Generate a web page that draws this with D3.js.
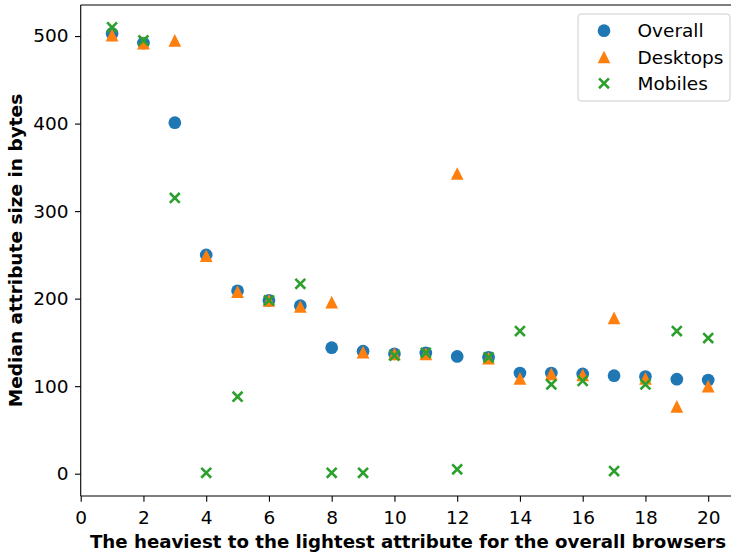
<!DOCTYPE html>
<html>
<head>
<meta charset="utf-8">
<script src="https://cdn.jsdelivr.net/npm/d3@7"></script>
<style>
  html, body { margin: 0; padding: 0; background: #fff; }
  svg { display: block; font-family: "DejaVu Sans", sans-serif; }
</style>
</head>
<body>
<svg id="chart" width="731" height="556"></svg>
<script>
const ranks = [1,2,3,4,5,6,7,8,9,10,11,12,13,14,15,16,17,18,19,20];
const overall  = [503,492,401,250,209,198,192,144,140,137,138,134,133,115,115,114,112,111,108,107];
const desktops = [501,492,495,249,208,198,191,196,139,137,137,343,132,109,114,113,178,109,77,100];
const mobiles  = [510,495,315,1,88,198,217,1,1,135,138,5,133,163,102,106,3,102,163,155];
const xTicks = [0,2,4,6,8,10,12,14,16,18,20];
const yTicks = [0,100,200,300,400,500];
const seriesNames = ["Overall","Desktops","Mobiles"];
const colors = ["#1f77b4","#ff7f0e","#2ca02c"];
const xLabel = "The heaviest to the lightest attribute for the overall browsers";
const yLabel = "Median attribute size in bytes";

const svg = d3.select("#chart");
const L = 80.7, R = 738, T = 5, B = 496;
const FS = 18.5;
const x = d3.scaleLinear().domain([0, 20.95]).range([L, R]);
const y = d3.scaleLinear().domain([-25.5, 535.5]).range([B, T]);

const ms = 12.7;
function triPath(s) { const h = s/2; return `M0,${-h}L${h},${h}L${-h},${h}Z`; }
function xPath(s) { const h = s/2; return `M${-h},${-h}L${h},${h}M${-h},${h}L${h},${-h}`; }

function drawMarker(g, kind, cx, cy) {
  if (kind === 0) {
    g.append("circle").attr("cx", cx).attr("cy", cy).attr("r", ms/2).attr("fill", colors[0]);
  } else if (kind === 1) {
    g.append("path").attr("d", triPath(ms)).attr("transform", `translate(${cx},${cy})`).attr("fill", colors[1]);
  } else {
    g.append("path").attr("d", xPath(ms*0.78)).attr("transform", `translate(${cx},${cy})`)
      .attr("fill", "none").attr("stroke", colors[2]).attr("stroke-width", 2.6);
  }
}

const data = [overall, desktops, mobiles];
const plot = svg.append("g");
data.forEach((vals, k) => {
  const g = plot.append("g");
  vals.forEach((v, i) => drawMarker(g, k, x(ranks[i]), y(v)));
});

// axes
const xAxis = d3.axisBottom(x).tickValues(xTicks).tickSize(5.7).tickPadding(9).tickFormat(d3.format("d"));
const yAxis = d3.axisLeft(y).tickValues(yTicks).tickSize(5.7).tickPadding(6.5).tickFormat(d3.format("d"));
const gx = svg.append("g").attr("transform", `translate(0,${B})`).call(xAxis);
const gy = svg.append("g").attr("transform", `translate(${L},0)`).call(yAxis);
[gx, gy].forEach(g => {
  g.select(".domain").remove();
  g.selectAll(".tick line").attr("stroke", "#000").attr("stroke-width", 1.1);
  g.selectAll(".tick text").attr("font-family", "DejaVu Sans").attr("font-size", FS).attr("fill", "#000");
});
// spines
svg.append("line").attr("x1", L).attr("x2", R).attr("y1", B).attr("y2", B).attr("stroke", "#000").attr("stroke-width", 1.1);
svg.append("line").attr("x1", L).attr("x2", R).attr("y1", T).attr("y2", T).attr("stroke", "#000").attr("stroke-width", 1.1);
svg.append("line").attr("x1", L).attr("x2", L).attr("y1", T).attr("y2", B).attr("stroke", "#000").attr("stroke-width", 1.1);
svg.append("line").attr("x1", R).attr("x2", R).attr("y1", T).attr("y2", B).attr("stroke", "#000").attr("stroke-width", 1.1);

// labels
svg.append("text").attr("x", 408).attr("y", 548).attr("text-anchor", "middle")
  .attr("font-weight", "bold").attr("font-size", 18.2).text(xLabel);
svg.append("text").attr("transform", `translate(22,${(T + B) / 2}) rotate(-90)`).attr("text-anchor", "middle")
  .attr("font-weight", "bold").attr("font-size", FS).text(yLabel);

// legend
const lg = svg.append("g");
lg.append("rect").attr("x", 578).attr("y", 14).attr("width", 152).attr("height", 87).attr("rx", 3)
  .attr("fill", "#fff").attr("fill-opacity", 0.8).attr("stroke", "#ccc").attr("stroke-width", 1);
seriesNames.forEach((n, k) => {
  const cy = 30.7 + k * 26.3;
  drawMarker(lg, k, 604, cy);
  lg.append("text").attr("x", 637.5).attr("y", cy + 6.5).attr("font-size", FS).text(n);
});
</script>
</body>
</html>
